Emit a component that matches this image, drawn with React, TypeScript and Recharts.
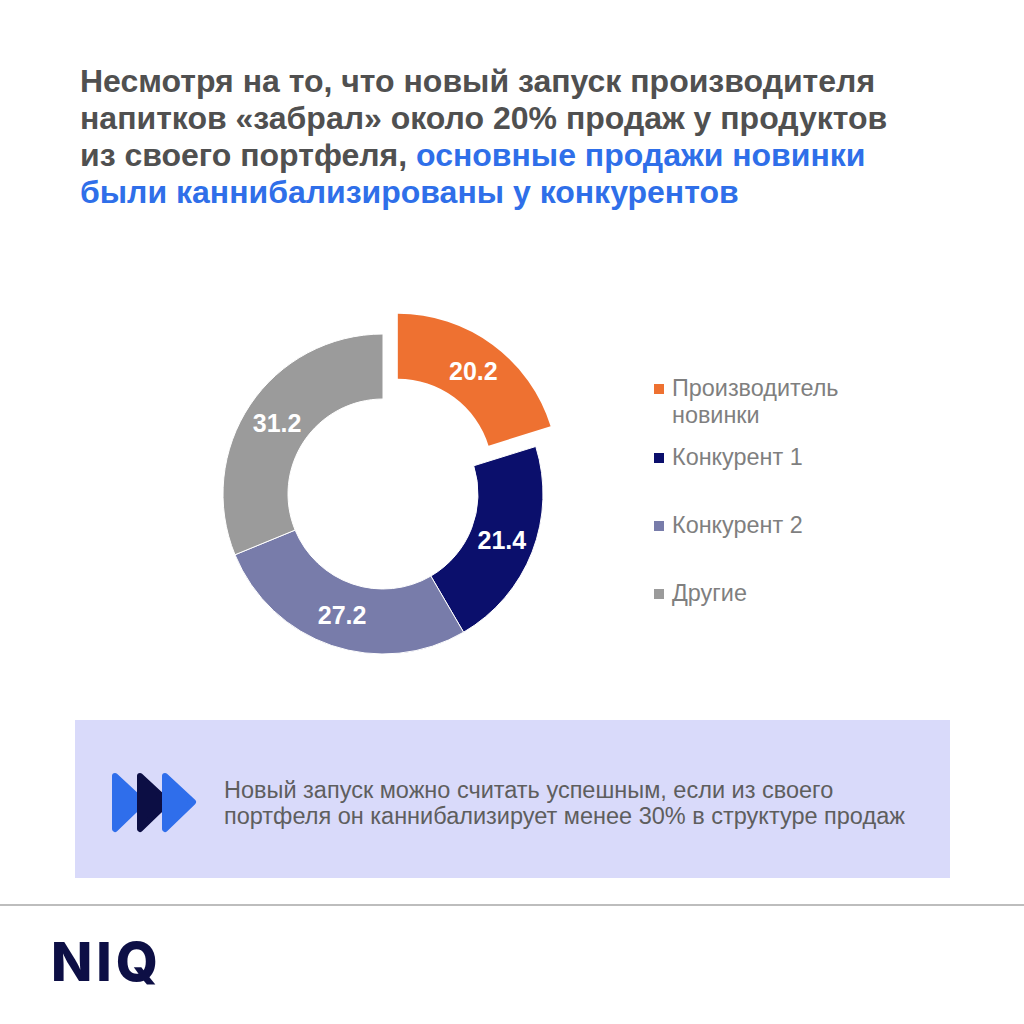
import React from 'react';
import { PieChart, Pie, Cell, Legend } from 'recharts';

const categories = ['Производитель новинки', 'Конкурент 1', 'Конкурент 2', 'Другие'];
const shares = [20.2, 21.4, 27.2, 31.2];
const colors = ['#EE7131', '#0B0F6C', '#787CAA', '#9B9B9B'];

const data = categories.map((name, i) => ({ name, value: shares[i] }));

const RAD = Math.PI / 180;
const CX = 383;
const CY = 214;
const OUTER = 160;
const INNER = 95;
const EXPLODE = 25;

// mid angle of the first (exploded) slice, clockwise from 12 o'clock
const total = shares.reduce((a, b) => a + b, 0);
const firstMid = (shares[0] / total) * 180;
const ex = CX + EXPLODE * Math.sin(firstMid * RAD);
const ey = CY - EXPLODE * Math.cos(firstMid * RAD);

const makeLabel = (onlyIndex: number | null) => (props: any) => {
  const { cx, cy, midAngle, innerRadius, outerRadius, value, index } = props;
  if (onlyIndex === null ? index === 0 : index !== onlyIndex) return null;
  const r = (innerRadius + outerRadius) / 2;
  const x = cx + r * Math.cos(-midAngle * RAD);
  const y = cy + r * Math.sin(-midAngle * RAD);
  return (
    <text
      x={x}
      y={y}
      fill="#fff"
      textAnchor="middle"
      dominantBaseline="central"
      style={{ fontFamily: '"Liberation Sans", Arial, sans-serif', fontWeight: 700, fontSize: 25 }}
    >
      {value.toFixed(1)}
    </text>
  );
};

const LegendBox = () => {
  const tops = [0, 69, 137, 205];
  return (
    <div style={{ position: 'relative', width: 300, height: 240 }}>
      {categories.map((c, i) => (
        <div key={c} style={{ position: 'absolute', top: tops[i], left: 0, display: 'flex' }}>
          <div style={{ width: 10, height: 10, background: colors[i], marginTop: 9, marginRight: 8 }} />
          <div style={{ width: 260, fontSize: 23.4, lineHeight: '27px', color: '#7F7F7F' }}>
            {i === 0 ? (<>Производитель<br />новинки</>) : c}
          </div>
        </div>
      ))}
    </div>
  );
};

const Arrows = () => (
  <svg width={90} height={62} viewBox="0 0 90 62">
    {[0, 25, 50].map((dx, i) => (
      <path
        key={i}
        d={`M${dx + 4} 4 L${dx + 32} 30 L${dx + 4} 57 Z`}
        fill={i === 1 ? '#0C0E44' : '#2F6EEB'}
        stroke={i === 1 ? '#0C0E44' : '#2F6EEB'}
        strokeWidth={6}
        strokeLinejoin="round"
      />
    ))}
  </svg>
);

export default function App() {
  const font = '"Liberation Sans", Arial, sans-serif';
  return (
    <div style={{ position: 'absolute', left: 0, top: 0, width: 1024, height: 1024, background: '#fff', fontFamily: font, overflow: 'hidden' }}>
      <div style={{ position: 'absolute', left: 80, top: 63, fontSize: 32, fontWeight: 700, lineHeight: '37px', color: '#505050', whiteSpace: 'nowrap' }}>
        Несмотря на то, что новый запуск производителя<br />
        напитков «забрал» около 20% продаж у продуктов<br />
        из своего портфеля, <span style={{ color: '#2F6FE9' }}>основные продажи новинки</span><br />
        <span style={{ color: '#2F6FE9' }}>были каннибализированы у конкурентов</span>
      </div>

      <div style={{ position: 'absolute', left: 0, top: 280 }}>
        <PieChart width={1024} height={430} margin={{ top: 0, right: 0, bottom: 0, left: 0 }}>
          <Pie
            data={data}
            dataKey="value"
            nameKey="name"
            cx={CX}
            cy={CY}
            innerRadius={INNER}
            outerRadius={OUTER}
            startAngle={90}
            endAngle={-270}
            stroke="#fff"
            strokeWidth={1}
            labelLine={false}
            label={makeLabel(null)}
            isAnimationActive={false}
          >
            {data.map((d, i) => (
              <Cell key={d.name} fill={i === 0 ? 'transparent' : colors[i]} stroke={i === 0 ? 'none' : '#fff'} />
            ))}
          </Pie>
          <Pie
            data={data}
            dataKey="value"
            nameKey="name"
            cx={ex}
            cy={ey}
            innerRadius={INNER}
            outerRadius={OUTER}
            startAngle={90}
            endAngle={-270}
            labelLine={false}
            label={makeLabel(0)}
            isAnimationActive={false}
          >
            {data.map((d, i) => (
              <Cell key={d.name} fill={i === 0 ? colors[0] : 'transparent'} stroke="none" />
            ))}
          </Pie>
          <Legend
            layout="vertical"
            content={() => <LegendBox />}
            wrapperStyle={{ position: 'absolute', left: 654, top: 95, width: 300 }}
          />
        </PieChart>
      </div>

      <div style={{ position: 'absolute', left: 75, top: 720, width: 875, height: 158, background: '#D9DAFA' }} />
      <div style={{ position: 'absolute', left: 111, top: 772 }}>
        <Arrows />
      </div>
      <div style={{ position: 'absolute', left: 224, top: 777, fontSize: 23.5, lineHeight: '26px', color: '#5E5E5E', whiteSpace: 'nowrap' }}>
        Новый запуск можно считать успешным, если из своего<br />
        портфеля он каннибализирует менее 30% в структуре продаж
      </div>

      <div style={{ position: 'absolute', left: 0, top: 904, width: 1024, height: 2, background: '#BDBDBD' }} />
      <div style={{ position: 'absolute', left: 51, top: 929, fontFamily: 'Inter, sans-serif', fontWeight: 800, fontSize: 54, lineHeight: '66px', color: '#0D0F45', letterSpacing: 4 }}>
        NIQ
      </div>
    </div>
  );
}
